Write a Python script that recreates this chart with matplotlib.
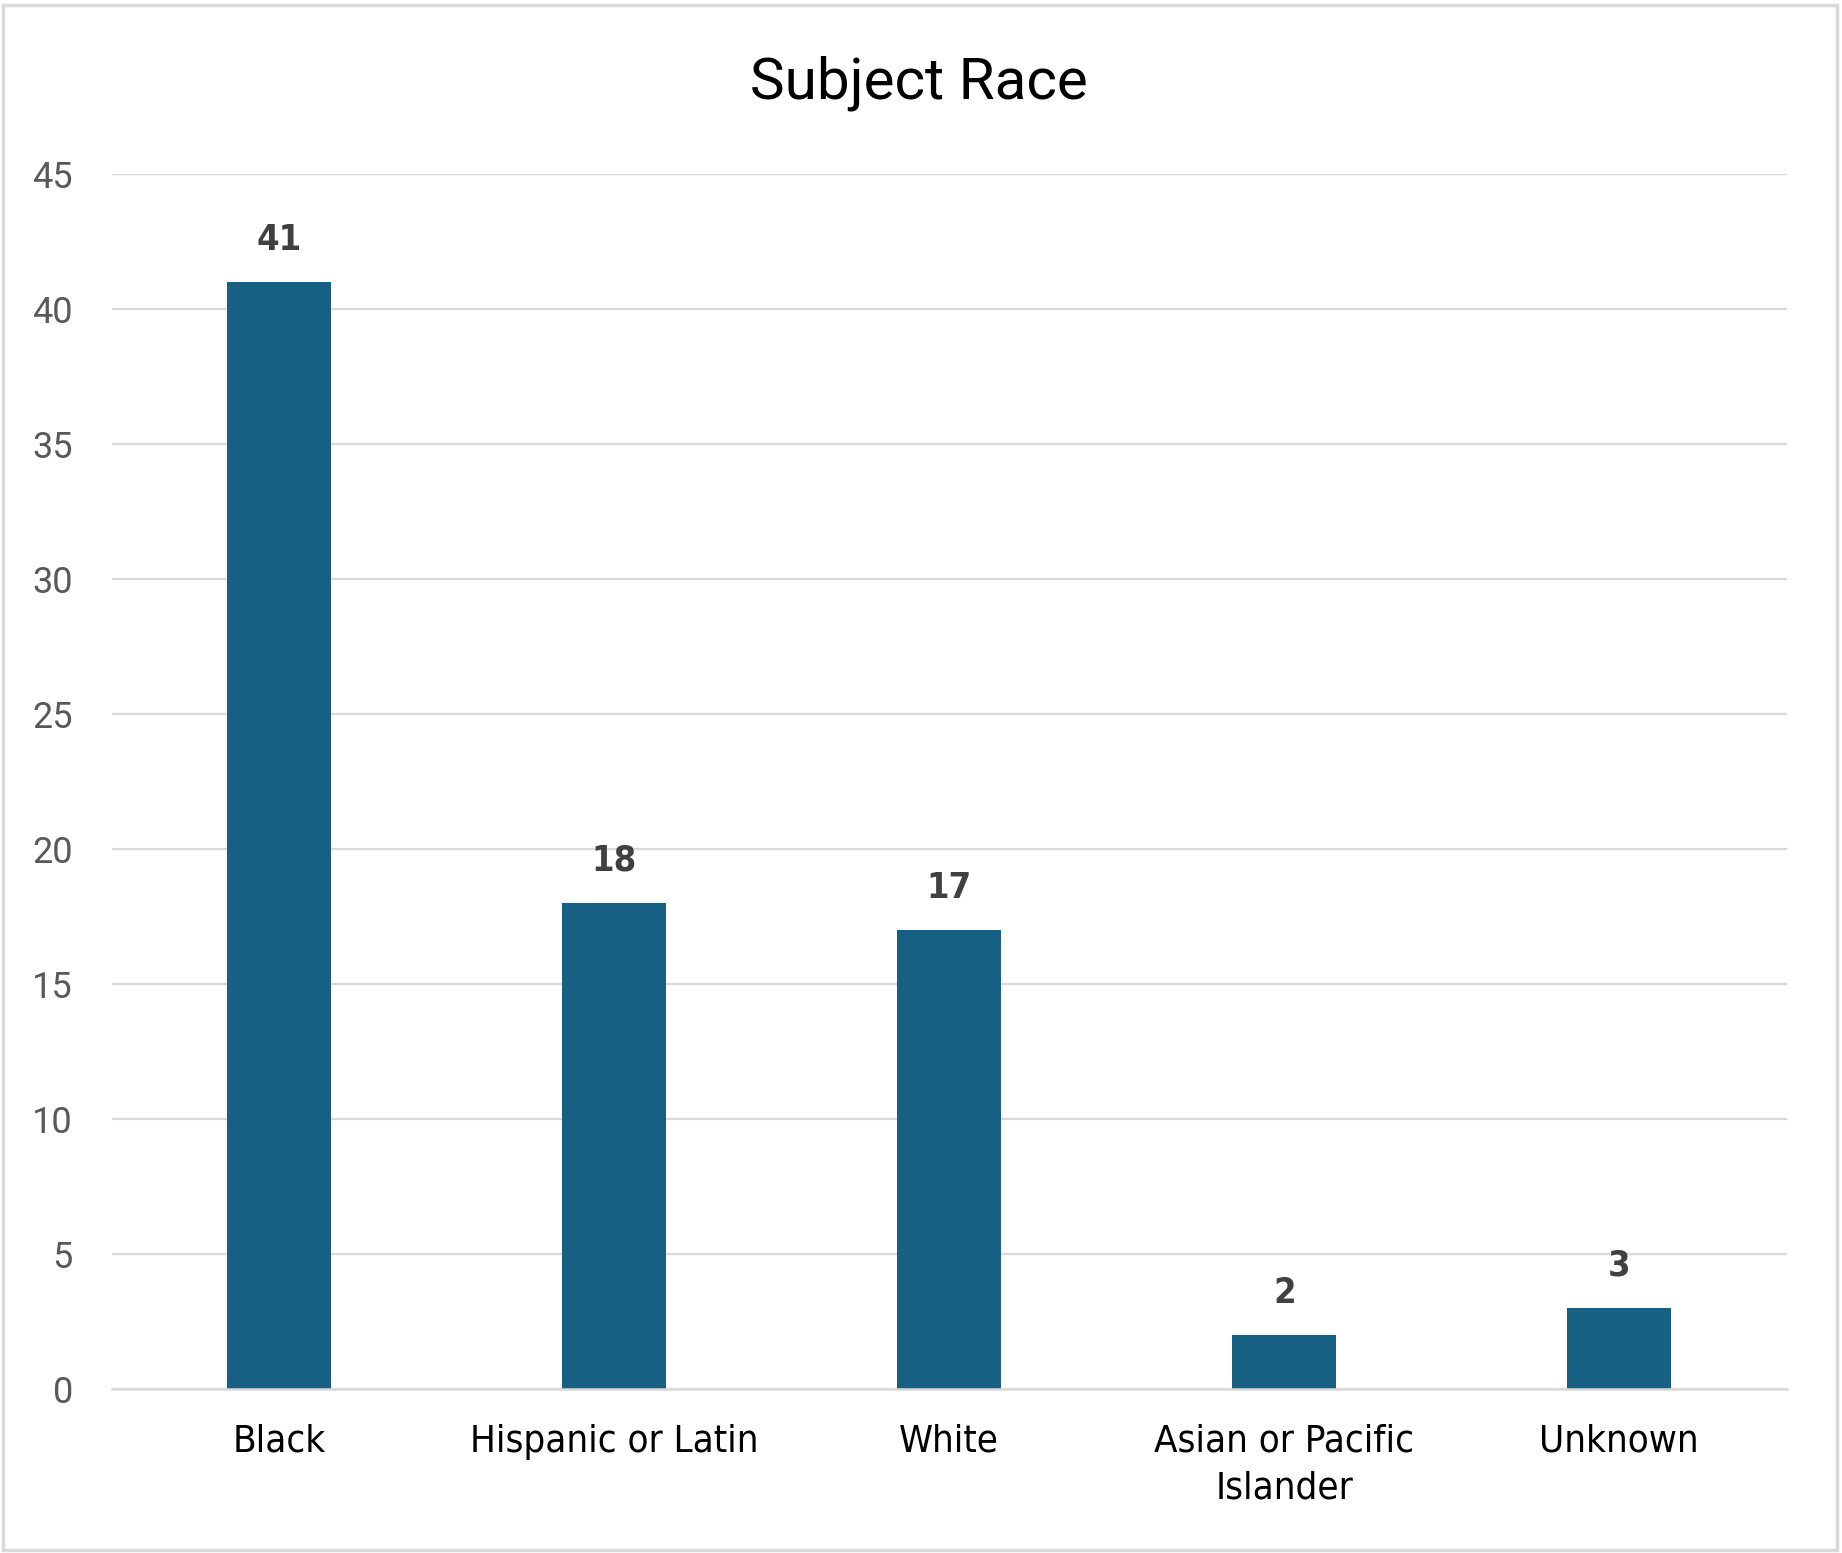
import matplotlib
matplotlib.use("Agg")
import matplotlib.pyplot as plt
from matplotlib.patches import Rectangle
from matplotlib import font_manager
from matplotlib.font_manager import FontProperties

categories = ["Black", "Hispanic or Latin", "White", "Asian or Pacific\nIslander", "Unknown"]
values = [41, 18, 17, 2, 3]
yticks = [0, 5, 10, 15, 20, 25, 30, 35, 40, 45]


def find_narrow(bold=False):
    cands = []
    for f in font_manager.fontManager.ttflist:
        label = (f.name + " " + f.fname).lower()
        is_narrow = ("narrow" in label or "condensed" in label
                     or f.stretch in ("condensed", "semi-condensed", "extra-condensed", 600, 700)
                     if isinstance(f.stretch, str) else f.stretch < 500)
        if not is_narrow:
            continue
        w = f.weight if isinstance(f.weight, int) else (700 if f.weight == "bold" else 400)
        if "italic" in label or "oblique" in label or f.style != "normal":
            continue
        score = abs(w - (700 if bold else 400))
        if "semi" in label or "extra" in label or "ultra" in label:
            score += 50
        cands.append((score, f.fname))
    if cands:
        cands.sort()
        return FontProperties(fname=cands[0][1])
    return FontProperties(family="Roboto", weight="bold" if bold else "normal")


fp_cat = find_narrow(False)
fp_lab = find_narrow(True)
fp_cat.set_size(27.5)
fp_lab.set_size(26)

fig = plt.figure(figsize=(18.42, 15.53), dpi=100)
ax = fig.add_axes([0.0607, 0.1056, 0.9093, 0.7824])

x = list(range(len(categories)))
ax.bar(x, values, width=0.31, color="#176083", zorder=3)
ax.set_xlim(-0.5, len(categories) - 0.5)
ax.set_ylim(0, 45)
ax.set_yticks(yticks)
ax.set_yticklabels([str(t) for t in yticks], fontfamily="Roboto", fontsize=26, color="#595959")
ax.set_xticks(x)
ax.set_xticklabels(categories, fontproperties=fp_cat, color="black", linespacing=1.37)
ax.tick_params(axis="y", length=0, pad=28)
ax.tick_params(axis="x", length=0, pad=25)
ax.grid(axis="y", color="#D9D9D9", linewidth=1.7, zorder=0)
for s in ["top", "right", "left"]:
    ax.spines[s].set_visible(False)
ax.spines["bottom"].set_color("#D9D9D9")
ax.spines["bottom"].set_linewidth(1.8)
ax.spines["bottom"].set_zorder(4)

for xi, v in zip(x, values):
    ax.annotate(str(v), (xi, v), xytext=(0, 18), textcoords="offset points",
                ha="center", va="bottom", fontproperties=fp_lab, color="#404040")

fig.text(0.499, 0.9365, "Subject Race", ha="center", va="baseline",
         fontsize=42, fontfamily="Roboto", color="black")

fig.patches.append(Rectangle((0.0015, 0.002), 0.996, 0.995, transform=fig.transFigure,
                             fill=False, edgecolor="#D9D9D9", linewidth=2.5))

fig.savefig("out.png", dpi=100, facecolor="white")
